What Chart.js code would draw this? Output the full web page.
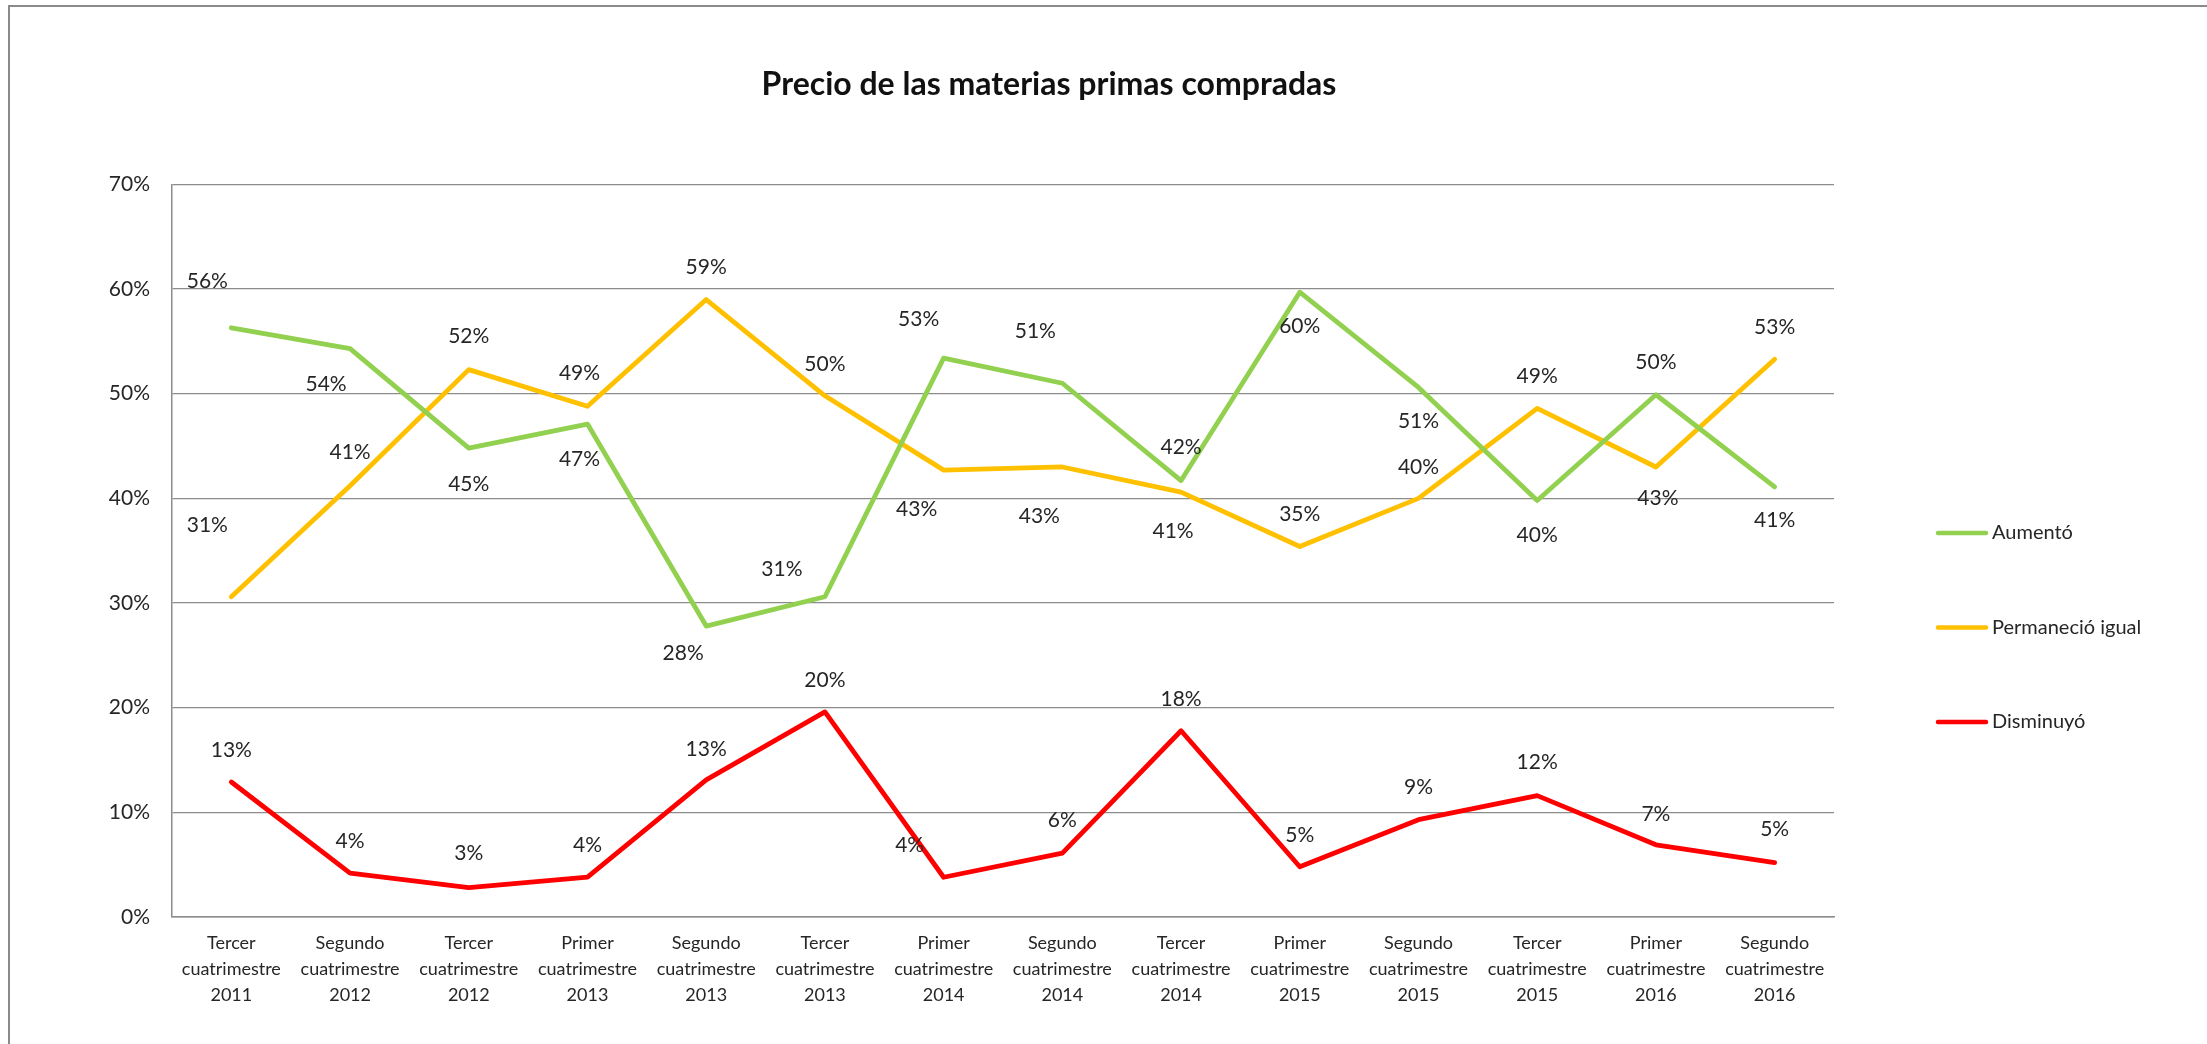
<!DOCTYPE html>
<html lang="es">
<head>
<meta charset="utf-8">
<title>Precio de las materias primas compradas</title>
<script src="https://cdn.jsdelivr.net/npm/chart.js@4.4.1/dist/chart.umd.min.js"></script>
<style>
    html, body { margin: 0; padding: 0; background: #fff; overflow: hidden; }
    #wrap { position: relative; width: 2207px; height: 1044px; }
    #frame {
        position: absolute; left: 8px; top: 5px; width: 2400px; height: 1200px;
        border: 2px solid #8a8a8a; pointer-events: none;
    }
</style>
</head>
<body>
<div id="wrap">
    <canvas id="preciosChart" width="2207" height="1044"></canvas>
    <div id="frame"></div>
</div>
<script>
// Categories (cuatrimestres)
const periodos = [
    ['Tercer', 'cuatrimestre', '2011'],
    ['Segundo', 'cuatrimestre', '2012'],
    ['Tercer', 'cuatrimestre', '2012'],
    ['Primer', 'cuatrimestre', '2013'],
    ['Segundo', 'cuatrimestre', '2013'],
    ['Tercer', 'cuatrimestre', '2013'],
    ['Primer', 'cuatrimestre', '2014'],
    ['Segundo', 'cuatrimestre', '2014'],
    ['Tercer', 'cuatrimestre', '2014'],
    ['Primer', 'cuatrimestre', '2015'],
    ['Segundo', 'cuatrimestre', '2015'],
    ['Tercer', 'cuatrimestre', '2015'],
    ['Primer', 'cuatrimestre', '2016'],
    ['Segundo', 'cuatrimestre', '2016']
];

// Series values (%)
const aumento = [56.3, 54.3, 44.8, 47.1, 27.8, 30.6, 53.4, 51.0, 41.7, 59.7, 50.6, 39.8, 49.9, 41.1];
const permanecioIgual = [30.6, 41.2, 52.3, 48.8, 59.0, 49.8, 42.7, 43.0, 40.6, 35.4, 40.0, 48.6, 43.0, 53.3];
const disminuyo = [12.9, 4.2, 2.8, 3.8, 13.1, 19.6, 3.8, 6.1, 17.8, 4.8, 9.3, 11.6, 6.9, 5.2];

// Y axis ticks
const yMin = 0;
const yMax = 70;
const yStep = 10;

// Data label nudges [dx, dy] in px, like the moved labels in the original
const aumentoLabelPos = [[-24, -47], [-24, 36], [0, 36], [-8, 35], [-23, 27], [-43, -28], [-25, -39],
    [-27, -52], [0, -33], [0, 34], [0, 34], [0, 35], [0, -33], [0, 33]];
const permanecioLabelPos = [[-24, -72], [0, -34], [0, -33], [-8, -33], [0, -32], [0, -32], [-27, 39],
    [-23, 49], [-8, 39], [0, -32], [0, -31], [0, -32], [2, 31], [0, -32]];
const disminuyoLabelPos = [[0, -32], [0, -32], [0, -34], [0, -32], [0, -31], [0, -32], [-34, -32],
    [0, -33], [0, -31], [0, -32], [0, -32], [0, -33], [0, -31], [0, -33]];

const FONT = 'Lato, "Liberation Sans", sans-serif';
const TEXT_COLOR = '#262626';
const GRID_COLOR = '#8c8c8c';

// Draws the rounded % value next to each point
const dataLabelsPlugin = {
    id: 'dataLabels',
    afterDatasetsDraw(chart) {
        const ctx = chart.ctx;
        ctx.save();
        ctx.font = '21px ' + FONT;
        ctx.fillStyle = TEXT_COLOR;
        ctx.textAlign = 'center';
        ctx.textBaseline = 'middle';
        chart.data.datasets.forEach((ds, i) => {
            const meta = chart.getDatasetMeta(i);
            meta.data.forEach((pt, j) => {
                const off = ds.labelPos[j];
                ctx.fillText(Math.round(ds.data[j]) + '%', pt.x + off[0], pt.y + off[1]);
            });
        });
        ctx.restore();
    }
};

// Legend on the right, one item every ~95px like the original
const sideLegendPlugin = {
    id: 'sideLegend',
    afterDraw(chart) {
        const ctx = chart.ctx;
        const x0 = chart.chartArea.right + 104;
        const firstY = 533;
        const gap = 94.5;
        ctx.save();
        ctx.font = '20px ' + FONT;
        ctx.textAlign = 'left';
        ctx.textBaseline = 'middle';
        chart.data.datasets.forEach((ds, i) => {
            const y = firstY + i * gap;
            ctx.strokeStyle = ds.borderColor;
            ctx.lineWidth = 4.5;
            ctx.lineCap = 'round';
            ctx.beginPath();
            ctx.moveTo(x0, y);
            ctx.lineTo(x0 + 48, y);
            ctx.stroke();
            ctx.fillStyle = TEXT_COLOR;
            ctx.fillText(ds.label, x0 + 54, y);
        });
        ctx.restore();
    }
};

function buildChart() {
    const ctx = document.getElementById('preciosChart').getContext('2d');

    const data = {
        labels: periodos,
        datasets: [{
            label: 'Aumentó',
            data: aumento,
            borderColor: '#92D050',
            labelPos: aumentoLabelPos
        }, {
            label: 'Permaneció igual',
            data: permanecioIgual,
            borderColor: '#FFC000',
            labelPos: permanecioLabelPos
        }, {
            label: 'Disminuyó',
            data: disminuyo,
            borderColor: '#FF0000',
            labelPos: disminuyoLabelPos
        }]
    };

    data.datasets.forEach(ds => {
        ds.borderWidth = 4.8;
        ds.tension = 0;
        ds.pointRadius = 0;
        ds.pointHoverRadius = 0;
        ds.fill = false;
        ds.borderJoinStyle = 'round';
        ds.borderCapStyle = 'round';
    });

    return new Chart(ctx, {
        type: 'line',
        data: data,
        plugins: [dataLabelsPlugin, sideLegendPlugin],
        options: {
            responsive: false,
            animation: false,
            layout: {
                padding: { left: 10, right: 119, top: 0, bottom: 23 }
            },
            plugins: {
                legend: { display: false },
                tooltip: { enabled: false },
                title: {
                    display: true,
                    text: 'Precio de las materias primas compradas',
                    color: '#111',
                    font: { family: FONT, size: 32, weight: 'bold', lineHeight: 1.2 },
                    padding: { top: 65, bottom: 81 }
                }
            },
            scales: {
                x: {
                    offset: true,
                    grid: { display: false, drawTicks: false },
                    border: { display: true, color: GRID_COLOR, width: 1.5 },
                    ticks: {
                        color: TEXT_COLOR,
                        padding: 13,
                        maxRotation: 0,
                        autoSkip: false,
                        font: { family: FONT, size: 18, lineHeight: '26px' }
                    }
                },
                y: {
                    min: yMin,
                    max: yMax,
                    afterFit(scale) { scale.width = 162; },
                    grid: { color: GRID_COLOR, lineWidth: 1.3, drawTicks: false },
                    border: { display: true, color: GRID_COLOR, width: 1.5 },
                    ticks: {
                        stepSize: yStep,
                        padding: 22,
                        color: TEXT_COLOR,
                        font: { family: FONT, size: 21 },
                        callback: v => v + '%'
                    }
                },
                // empty column that keeps room for the legend
                legendSpace: {
                    type: 'linear',
                    position: 'right',
                    afterFit(scale) { scale.width = 254; },
                    grid: { display: false, drawTicks: false },
                    border: { display: false },
                    ticks: { display: false }
                }
            }
        }
    });
}

document.addEventListener('DOMContentLoaded', function() {
    buildChart();
});
</script>
</body>
</html>
